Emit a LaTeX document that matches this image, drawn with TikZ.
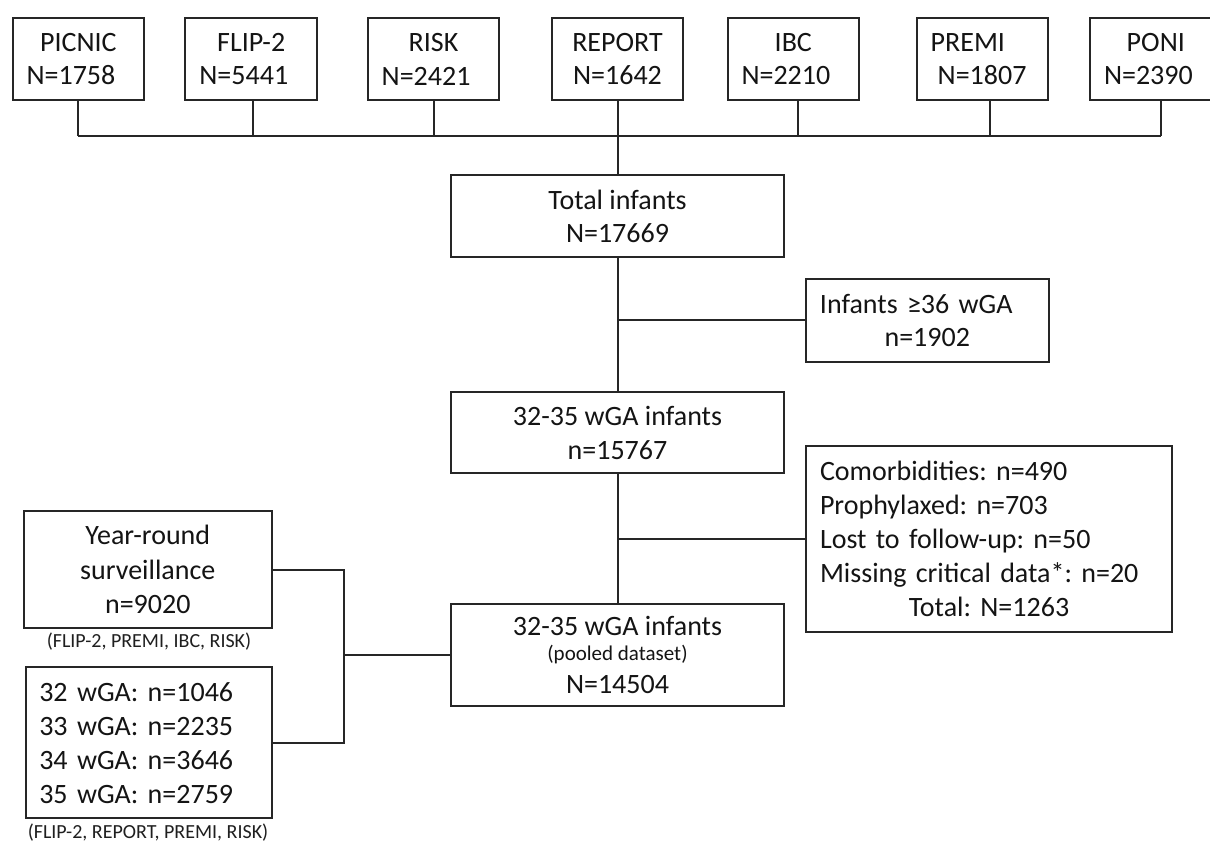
\documentclass[tikz,border=0pt]{standalone}
\usepackage{fontspec}
\setmainfont{Carlito}
\frenchspacing
\begin{document}
\begin{tikzpicture}[x=1pt,y=-1pt,
  box/.style={draw=black!85, line width=2pt, rectangle, inner sep=0pt, align=center,
    font=\fontsize{28}{33.5}\selectfont\frenchspacing, text=black!92},
  topbox/.style={box, minimum width=131.6pt, minimum height=81.7pt, text width=103.6pt, align=left},
  conn/.style={draw=black!85, line width=2pt},
  captxt/.style={inner sep=0pt, font=\fontsize{20}{24}\selectfont, text=black!88}]
\useasboundingbox (0,0) rectangle (1210,842);
\fill[white] (0,0) rectangle (1210,842);

% top row of studies
\node[topbox] (picnic) at (78.35,59.2) {\makebox[\linewidth]{PICNIC}\\N=1758};
\node[topbox] (flip) at (251.2,59.2) {\makebox[\linewidth]{FLIP-2}\\N=5441};
\node[topbox] (risk) at (433.5,59.2) {\makebox[\linewidth]{RISK}\\N=2421};
\node[topbox] (report) at (617.5,59.2) {\makebox[\linewidth]{REPORT}\\\makebox[\linewidth]{N=1642}};
\node[topbox] (ibc) at (793.3,59.2) {\makebox[\linewidth]{IBC}\\N=2210};
\node[topbox] (premi) at (982.5,59.2) {PREMI\\\hspace*{7pt}N=1807};
\node[topbox] (poni) at (1155.8,59.2) {\makebox[\linewidth]{PONI}\\N=2390};

\coordinate (bus) at (0,136);
\coordinate (bPIC) at ([xshift=-0.3pt]picnic.south);
\coordinate (bFLIP) at ([xshift=1.8pt]flip.south);
\coordinate (bRISK) at (risk.south);
\coordinate (bIBC) at ([xshift=4.7pt]ibc.south);
\coordinate (bPREMI) at ([xshift=7.5pt]premi.south);
\coordinate (bPONI) at ([xshift=5.2pt]poni.south);
\foreach \b in {bPIC,bFLIP,bRISK,bIBC,bPREMI,bPONI}
  \draw[conn] (\b) -- (\b |- bus);
\draw[conn] (bPIC |- bus) -- (bPONI |- bus);

% main flow
\node[box, minimum width=333.6pt, minimum height=82.3pt] (total) at (617.5,216.2) {Total infants\\N=17669};
\node[box, minimum width=333.6pt, minimum height=81pt] (first) at (617.5,432.8) {32-35 wGA infants\\n=15767};
\node[box, minimum width=333.6pt, minimum height=102pt] (pooled) at (617.5,655)
  {32-35 wGA infants\\[-9pt]{\fontsize{21}{25}\selectfont(pooled dataset)}\\N=14504};

% exclusions
\node[box, minimum width=243.3pt, minimum height=82.4pt, text width=214.7pt, align=left] (ge) at (927.3,320.5)
  {Infants ≥36 wGA\\\makebox[\linewidth]{n=1902}};
\node[box, minimum width=366.6pt, minimum height=186pt, text width=338pt, align=left,
  font=\fontsize{28}{34}\selectfont\frenchspacing] (excl) at (989,539)
  {Comorbidities: n=490\\Prophylaxed: n=703\\Lost to follow-up: n=50\\Missing critical data*: n=20\\\makebox[\linewidth]{Total: N=1263}};

% left subsets
\node[box, minimum width=247.7pt, minimum height=117.6pt, font=\fontsize{28}{34.5}\selectfont] (yr) at (147.8,569.5)
  {Year-round\\surveillance\\n=9020};
\node[captxt] (c1) at (149,642) {(FLIP-2, PREMI, IBC, RISK)};
\node[box, minimum width=246pt, minimum height=151pt, text width=218.8pt, align=left,
  font=\fontsize{28}{34}\selectfont\frenchspacing] (wga) at (148.7,742.8)
  {32 wGA: n=1046\\33 wGA: n=2235\\34 wGA: n=3646\\35 wGA: n=2759};
\node[captxt] (c2) at (148,833) {(FLIP-2, REPORT, PREMI, RISK)};

% connectors
\draw[conn] (report.south) -- (total.north);
\draw[conn] (total.south) -- (first.north);
\draw[conn] (total.south |- ge.west) -- (ge.west);
\draw[conn] (first.south) -- (pooled.north);
\draw[conn] (first.south |- excl.west) -- (excl.west);
\coordinate (brk) at (344,655);
\draw[conn] (yr.east) -| (brk |- wga.east) -- (wga.east);
\draw[conn] (brk) -- (pooled.west);
\end{tikzpicture}
\end{document}
